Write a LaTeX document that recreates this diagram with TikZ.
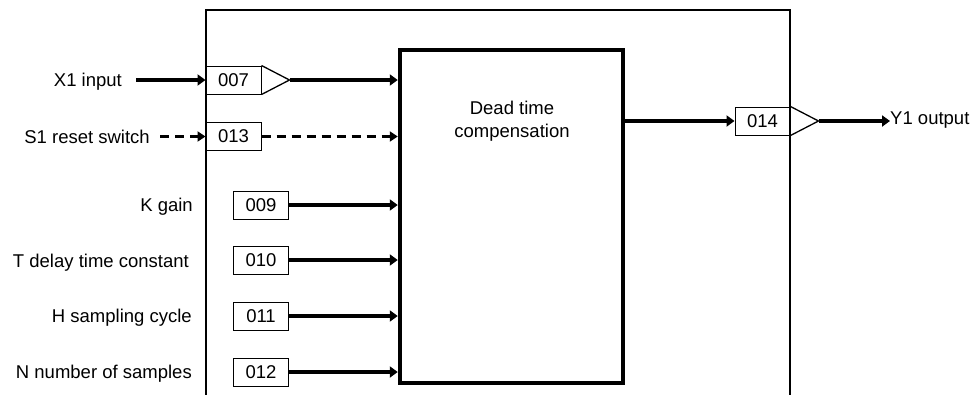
\documentclass[tikz,border=0pt]{standalone}
\usepackage{fontspec}
\setmainfont{Liberation Sans}
\usetikzlibrary{arrows.meta,calc}
\begin{document}
\begin{tikzpicture}[x=1pt,y=-1pt,
  every node/.style={font=\fontsize{18.5}{23}\selectfont, inner sep=0pt},
  numbox/.style={draw, line width=1pt, minimum width=55pt, minimum height=28pt},
  tri/.style={line width=1.3pt, line join=miter},
  thickarr/.style={line width=4.5pt, -{Triangle[length=8pt,width=11pt]}},
  dasharr/.style={line width=3pt, dash pattern=on 9pt off 6pt, -{Triangle[length=8pt,width=10pt]}},
  lbl/.style={anchor=base east}]
\useasboundingbox (0,0) rectangle (976,394);
% outer frame
\draw[line width=2pt] (206,400) -- (206,10) -- (790,10) -- (790,400);
% main block
\node[draw, line width=4.5pt, minimum width=223pt, minimum height=333pt] (blk) at (511.5,216.5) {};
\node[align=center] (blktxt) at (512,121) {Dead time\\compensation};
% X1
\node[lbl] (x1) at (122,86.5) {X1 input};
\node[numbox] (b007) at (233.5,80) {007};
\coordinate (t007) at ($(b007.east)+(28,0)$);
\draw[tri] (b007.north east) -- (t007) -- (b007.south east);
\draw[thickarr] ([xshift=14pt]x1.east |- b007.west) -- (b007.west);
\draw[thickarr] (t007) -- (blk.west |- t007);
% S1
\node[lbl] (s1) at (150,143) {S1 reset switch};
\node[numbox] (b013) at (233.5,136.5) {013};
\draw[dasharr] ([xshift=10pt]s1.east |- b013.west) -- (b013.west);
\draw[dasharr] (b013.east) -- (blk.west |- b013.east);
% K
\node[lbl] (k) at (193,211.5) {K gain};
\node[numbox] (b009) at (261,205) {009};
\draw[thickarr] (b009.east) -- (blk.west |- b009.east);
% T
\node[lbl] (t) at (189,267) {T delay time constant};
\node[numbox] (b010) at (261,260) {010};
\draw[thickarr] (b010.east) -- (blk.west |- b010.east);
% H
\node[lbl] (h) at (192,322.5) {H sampling cycle};
\node[numbox] (b011) at (261,316) {011};
\draw[thickarr] (b011.east) -- (blk.west |- b011.east);
% N
\node[lbl] (n) at (192,378) {N number of samples};
\node[numbox] (b012) at (261,372) {012};
\draw[thickarr] (b012.east) -- (blk.west |- b012.east);
% output
\node[numbox] (b014) at (762.5,121) {014};
\coordinate (t014) at ($(b014.east)+(28,0)$);
\draw[tri] (b014.north east) -- (t014) -- (b014.south east);
\draw[thickarr] (blk.east |- b014.west) -- (b014.west);
\node[anchor=base west] (y1) at (890,124.5) {Y1 output};
\draw[thickarr] (t014) -- (y1.west |- t014);
\end{tikzpicture}
\end{document}
